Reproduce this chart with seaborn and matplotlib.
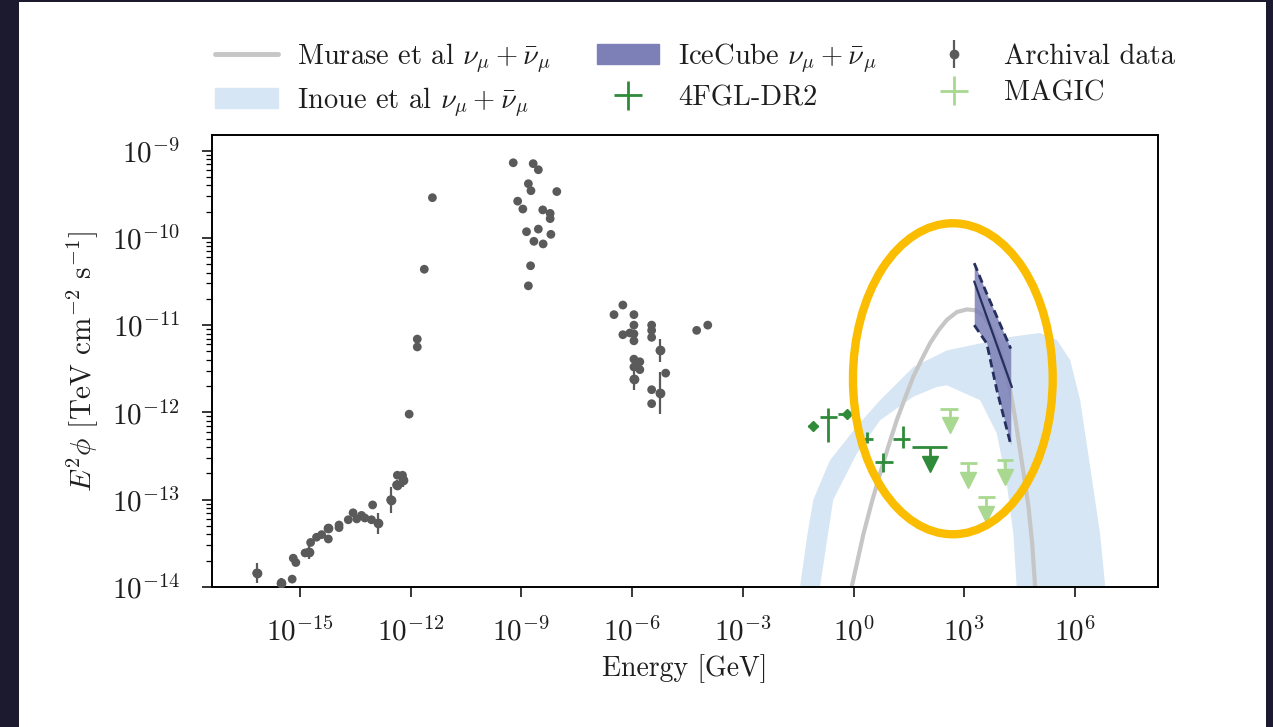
import numpy as np
import matplotlib
matplotlib.use("Agg")
import matplotlib.pyplot as plt
import seaborn as sns
from matplotlib.patches import Patch, Ellipse, Rectangle
from matplotlib.lines import Line2D
from matplotlib.ticker import FixedLocator, NullLocator, LogLocator

# archival data (log10 E [GeV], log10 E^2 phi, half error in dex)
arch_loge = [-16.17, -15.50, -15.21, -15.18, -15.11, -14.86, -14.76, -14.71, -14.55, -14.41,
             -14.23, -14.23, -13.94, -13.94, -13.69, -13.56, -13.46, -13.33, -13.24, -13.06,
             -13.03, -12.88, -12.54, -12.38, -12.36, -12.22, -12.20, -12.04, -11.82, -11.82,
             -11.63, -11.41,
             -9.22, -8.68, -8.54, -8.81, -8.74, -8.04, -9.10, -8.96, -8.42, -8.22,
             -8.22, -8.86, -8.54, -8.20, -8.66, -8.41, -8.75, -8.81,
             -6.25, -6.49, -5.95, -5.95, -5.47, -6.25, -6.06, -5.95, -5.95, -5.47,
             -5.47, -5.24, -5.95, -5.79, -5.95, -5.79, -5.95, -5.09, -5.47, -5.24,
             -5.47, -4.25, -3.95]
arch_logf = [-13.84, -13.95, -13.91, -13.67, -13.72, -13.61, -13.60, -13.49, -13.43, -13.40,
             -13.33, -13.45, -13.29, -13.32, -13.23, -13.15, -13.22, -13.18, -13.21, -13.23,
             -13.06, -13.27, -13.00, -12.83, -12.72, -12.72, -12.77, -12.02, -11.16, -11.25,
             -10.36, -9.54,
             -9.14, -9.15, -9.22, -9.38, -9.46, -9.47, -9.58, -9.67, -9.68, -9.72,
             -9.78, -9.93, -9.90, -9.96, -10.04, -10.07, -10.32, -10.55,
             -10.77, -10.88, -10.88, -11.00, -11.00, -11.11, -11.09, -11.10, -11.18, -11.06,
             -11.14, -11.29, -11.39, -11.42, -11.48, -11.51, -11.62, -11.55, -11.74, -11.78,
             -11.90, -11.06, -11.00]
arch_err = [0.12, 0.05, 0, 0, 0, 0, 0.08, 0, 0, 0,
            0.04, 0, 0, 0, 0, 0, 0, 0, 0, 0,
            0, 0.12, 0.15, 0.05, 0, 0, 0.08, 0, 0, 0,
            0, 0,
            0, 0, 0, 0, 0, 0, 0, 0, 0, 0,
            0, 0, 0, 0, 0, 0, 0, 0,
            0, 0, 0, 0, 0, 0, 0, 0, 0, 0,
            0, 0.13, 0, 0, 0, 0, 0.12, 0, 0, 0.24,
            0, 0, 0]

# 4FGL-DR2 (log10 values)
fgl_loge = [-0.68, 0.36, 0.81, 1.35]
fgl_logf = [-12.05, -12.30, -12.57, -12.30]
fgl_loge_lo = [-0.91, 0.22, 0.58, 1.08]
fgl_loge_hi = [-0.45, 0.54, 1.08, 1.53]
fgl_logf_lo = [-12.34, -12.35, -12.68, -12.41]
fgl_logf_hi = [-11.95, -12.23, -12.47, -12.16]
fgl_pt_loge = [-1.09, -0.19]
fgl_pt_logf = [-12.16, -12.02]
fgl_pt_lo = [-1.23, -0.42]
fgl_pt_hi = [-0.95, -0.09]
fgl_ul_loge = [2.07]
fgl_ul_logf = [-12.40]
fgl_ul_lo = [1.58]
fgl_ul_hi = [2.53]

# MAGIC upper limits
magic_loge = [2.60, 3.11, 3.59, 4.11]
magic_logf = [-11.96, -12.58, -12.97, -12.55]
magic_lo = [2.34, 2.89, 3.38, 3.88]
magic_hi = [2.84, 3.34, 3.83, 4.33]

# Murase et al model curve
murase_loge = [-0.05, 0.27, 0.50, 0.72, 0.95, 1.17, 1.40, 1.62, 1.85, 2.07, 2.30, 2.53, 2.80,
               3.07, 3.30, 3.52, 3.70, 3.88, 4.06, 4.24, 4.38, 4.51, 4.63, 4.74, 4.84, 4.92]
murase_logf = [-14.0, -13.39, -13.02, -12.70, -12.38, -12.09, -11.83, -11.59, -11.39, -11.21,
               -11.06, -10.94, -10.85, -10.82, -10.83, -10.89, -11.00, -11.17, -11.42, -11.74,
               -12.07, -12.43, -12.76, -13.08, -13.50, -14.0]

# Inoue et al band
inoue_up_loge = [-1.45, -1.25, -1.09, -0.64, 0.09, 0.72, 1.62, 2.53, 3.43, 4.33, 5.05, 5.51,
                 5.87, 6.14, 6.41, 6.68, 6.82]
inoue_up_logf = [-14.0, -13.4, -13.0, -12.55, -12.16, -11.86, -11.48, -11.29, -11.21, -11.13,
                 -11.09, -11.17, -11.40, -11.86, -12.62, -13.39, -14.0]
inoue_lo_loge = [-0.91, -0.55, 0.09, 0.72, 1.62, 2.25, 2.53, 3.43, 3.88, 4.15, 4.33, 4.42]
inoue_lo_logf = [-14.0, -13.0, -12.47, -12.09, -11.82, -11.71, -11.69, -11.86, -12.24, -12.81,
                 -13.39, -14.0]

# IceCube band
ic_loge = [3.27, 3.61, 3.88, 4.26]
ic_up = [-10.29, -10.64, -10.90, -11.27]
ic_lo = [-11.00, -11.21, -11.74, -12.37]
ic_fit_loge = [3.27, 4.29]
ic_fit_logf = [-10.50, -11.71]

GREY = "#5a5a5a"
GREEN = "#2f8a3a"
LGREEN = "#a9d891"
BAND = "#d6e6f4"
ICE = "#7c80b6"
ICE_LINE = "#25305e"
MUR = "#c6c6c6"
TXT = "#1e1e1e"

sns.set_theme(style="ticks")
plt.rcParams["font.family"] = ["cmr10", "DejaVu Serif"]
plt.rcParams["mathtext.fontset"] = "cm"
plt.rcParams["axes.formatter.use_mathtext"] = True
plt.rcParams["axes.unicode_minus"] = False

p = lambda a: 10 ** np.asarray(a, dtype=float)

fig = plt.figure(figsize=(12.73, 7.27), dpi=100, facecolor="#1b1a2e")
fig.add_artist(Rectangle((19 / 1273, 0), (1266 - 19) / 1273, 725 / 727,
                         transform=fig.transFigure, facecolor="white", edgecolor="none", zorder=-10))
ax = fig.add_axes([0.1663, 0.1926, 0.7431, 0.6217])
ax.set_facecolor("white")
ax.set_xscale("log")
ax.set_yscale("log")

# Inoue band
poly_x = np.concatenate([p(inoue_up_loge), p(inoue_lo_loge)[::-1]])
poly_y = np.concatenate([p(inoue_up_logf), p(inoue_lo_logf)[::-1]])
ax.fill(poly_x, poly_y, color=BAND, lw=0, zorder=1)

# Murase curve
sns.lineplot(x=p(murase_loge), y=p(murase_logf), ax=ax, color=MUR, lw=3, sort=False, zorder=2)

# IceCube band
ax.fill_between(p(ic_loge), p(ic_lo), p(ic_up), color=ICE, alpha=0.85, lw=0, zorder=3)
ax.plot(p(ic_loge), p(ic_up), color=ICE_LINE, lw=2, ls=(0, (3, 1.6)), zorder=4)
ax.plot(p(ic_loge), p(ic_lo), color=ICE_LINE, lw=2, ls=(0, (3, 1.6)), zorder=4)
ax.plot(p(ic_fit_loge), p(ic_fit_logf), color=ICE_LINE, lw=1.6, zorder=4)

# archival
ax_ = np.asarray(p(arch_loge))
ay = p(arch_logf)
ae = np.asarray(arch_err)
m = ae > 0
arch = ax.errorbar(ax_[m], ay[m], yerr=[ay[m] - ay[m] * 10 ** -ae[m], ay[m] * 10 ** ae[m] - ay[m]],
                   fmt="o", ms=6, color=GREY, ecolor=GREY, elinewidth=1.6, capsize=0, zorder=5)
sns.scatterplot(x=ax_, y=ay, ax=ax, color=GREY, s=40, edgecolor="none", zorder=6)

# 4FGL
fx, fy = p(fgl_loge), p(fgl_logf)
fgl = ax.errorbar(fx, fy, xerr=[fx - p(fgl_loge_lo), p(fgl_loge_hi) - fx],
                  yerr=[fy - p(fgl_logf_lo), p(fgl_logf_hi) - fy],
                  fmt="none", ecolor=GREEN, elinewidth=2, capsize=0, zorder=7)
px_, py_ = p(fgl_pt_loge), p(fgl_pt_logf)
ax.errorbar(px_, py_, xerr=[px_ - p(fgl_pt_lo), p(fgl_pt_hi) - px_], fmt="D", ms=5,
            color=GREEN, elinewidth=2, capsize=0, zorder=7)
ux, uy = p(fgl_ul_loge), p(fgl_ul_logf)
ax.errorbar(ux, uy, xerr=[ux - p(fgl_ul_lo), p(fgl_ul_hi) - ux], yerr=[uy - uy * 10 ** -0.14, uy * 0],
            fmt="none", ecolor=GREEN, elinewidth=2, capsize=0, zorder=7)
ax.plot(ux, uy * 10 ** -0.19, "v", color=GREEN, ms=12, zorder=7)

# MAGIC
mx, my = p(magic_loge), p(magic_logf)
magic = ax.errorbar(mx, my, xerr=[mx - p(magic_lo), p(magic_hi) - mx],
                    yerr=[my - my * 10 ** -0.14, my * 0],
                    fmt="none", ecolor=LGREEN, elinewidth=2, capsize=0, zorder=7)
ax.plot(mx, my * 10 ** -0.19, "v", color=LGREEN, ms=12, ls="none", zorder=7)

ax.set_xlim(10 ** -17.39, 10 ** 8.24)
ax.set_ylim(1e-14, 10 ** -8.822)
ax.xaxis.set_major_locator(FixedLocator([10.0 ** k for k in range(-15, 7, 3)]))
ax.xaxis.set_minor_locator(NullLocator())
ax.yaxis.set_major_locator(LogLocator(base=10, numticks=20))
ax.yaxis.set_minor_locator(LogLocator(base=10, subs=np.arange(2, 10), numticks=20))
ax.tick_params(which="major", length=7, width=1.1, color="black", labelsize=21, labelcolor=TXT)
ax.tick_params(axis="y", which="major", pad=16)
ax.tick_params(axis="x", which="major", pad=15)
ax.tick_params(which="minor", length=4, width=0.9, color="black")
for s in ax.spines.values():
    s.set_color("black")
    s.set_linewidth(1.4)

ax.set_xlabel("Energy [GeV]", fontsize=20, color=TXT, labelpad=5)
ax.set_ylabel(r"$E^2\phi$ [TeV cm$^{-2}$ s$^{-1}$]", fontsize=21, color=TXT, labelpad=8)

handles = [Line2D([], [], color=MUR, lw=3.5), Patch(color=BAND),
           Patch(color=ICE), fgl, arch, magic]
labels = [r"Murase et al $\nu_\mu + \bar{\nu}_\mu$", r"Inoue et al $\nu_\mu + \bar{\nu}_\mu$",
          r"IceCube $\nu_\mu + \bar{\nu}_\mu$", "4FGL-DR2", "Archival data", "MAGIC"]
fig.legend(handles, labels, ncol=3, loc="upper left", bbox_to_anchor=(201 / 1273, 1 - 27 / 727),
           frameon=False, fontsize=20.5, borderpad=0, handlelength=2.2, handletextpad=0.67,
           columnspacing=1.6, labelspacing=0.36, labelcolor=TXT)

ax.add_patch(Ellipse((0.7485, 0.479), 0.1569, 0.4278, transform=fig.transFigure, fill=False,
                     edgecolor="#fbbd00", lw=6, zorder=20, clip_on=False))

fig.savefig("out.png", dpi=100, facecolor=fig.get_facecolor())
